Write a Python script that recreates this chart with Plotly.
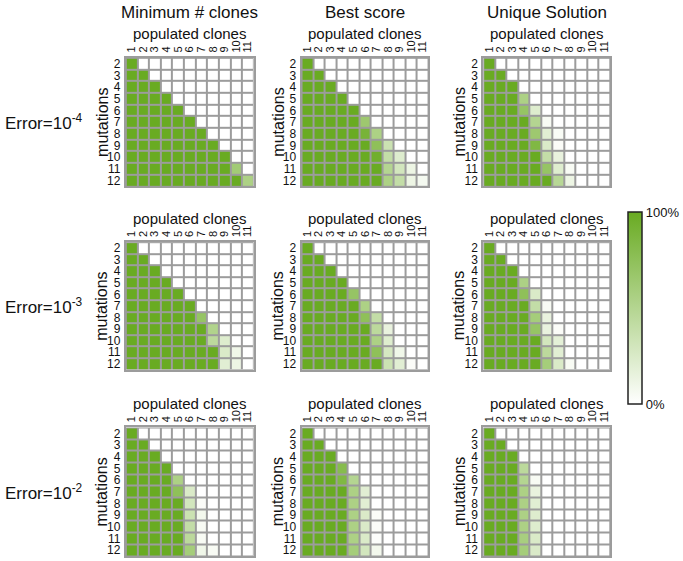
import plotly.graph_objects as go

W, H = 683, 561

mutations = [2, 3, 4, 5, 6, 7, 8, 9, 10, 11, 12]
clones = [1, 2, 3, 4, 5, 6, 7, 8, 9, 10, 11]
method_titles = ["Minimum # clones", "Best score", "Unique Solution"]
error_labels = ["Error=10<sup>-4</sup>", "Error=10<sup>-3</sup>", "Error=10<sup>-2</sup>"]

# % of runs, one list per mutation count (cols 1 .. m-1)
min_clones_e4 = [
    [100],
    [100, 100],
    [100, 100, 100],
    [100, 100, 100, 100],
    [100, 100, 100, 100, 100],
    [100, 100, 100, 100, 100, 100],
    [100, 100, 100, 100, 100, 100, 100],
    [100, 100, 100, 100, 100, 100, 100, 100],
    [100, 100, 100, 100, 100, 100, 100, 100, 100],
    [100, 100, 100, 100, 100, 100, 100, 100, 100, 62],
    [100, 100, 100, 100, 100, 100, 100, 100, 100, 100, 55],
]
best_score_e4 = [
    [100],
    [100, 100],
    [100, 100, 100],
    [100, 100, 100, 100],
    [100, 100, 100, 100, 100],
    [100, 100, 100, 100, 100, 65],
    [100, 100, 100, 100, 100, 90, 55],
    [100, 100, 100, 100, 100, 100, 75, 35],
    [100, 100, 100, 100, 100, 100, 95, 40, 22],
    [100, 100, 100, 100, 100, 100, 100, 50, 30, 12],
    [100, 100, 100, 100, 100, 100, 100, 55, 40, 12, 7],
]
unique_e4 = [
    [100],
    [100, 100],
    [100, 100, 100],
    [100, 100, 100, 55],
    [100, 100, 100, 70, 22],
    [100, 100, 100, 100, 50, 5],
    [100, 100, 100, 100, 65, 20, 4],
    [100, 100, 100, 100, 85, 25, 3, 0],
    [100, 100, 100, 100, 100, 40, 15, 0, 0],
    [100, 100, 100, 100, 100, 70, 22, 5, 0, 0],
    [100, 100, 100, 100, 100, 100, 48, 12, 0, 0, 0],
]
min_clones_e3 = [
    [100],
    [100, 100],
    [100, 100, 100],
    [100, 100, 100, 100],
    [100, 100, 100, 100, 100],
    [100, 100, 100, 100, 100, 100],
    [100, 100, 100, 100, 100, 100, 70],
    [100, 100, 100, 100, 100, 100, 100, 52],
    [100, 100, 100, 100, 100, 100, 100, 45, 22],
    [100, 100, 100, 100, 100, 100, 100, 100, 25, 10],
    [100, 100, 100, 100, 100, 100, 100, 100, 20, 12, 0],
]
best_score_e3 = [
    [100],
    [100, 100],
    [100, 100, 100],
    [100, 100, 100, 100],
    [100, 100, 100, 100, 70],
    [100, 100, 100, 100, 100, 55],
    [100, 100, 100, 100, 100, 75, 40],
    [100, 100, 100, 100, 100, 100, 45, 15],
    [100, 100, 100, 100, 100, 100, 55, 22, 0],
    [100, 100, 100, 100, 100, 100, 75, 28, 10, 0],
    [100, 100, 100, 100, 100, 100, 100, 35, 20, 3, 0],
]
unique_e3 = [
    [100],
    [100, 100],
    [100, 100, 100],
    [100, 100, 100, 55],
    [100, 100, 100, 75, 25],
    [100, 100, 100, 100, 40, 5],
    [100, 100, 100, 100, 60, 15, 0],
    [100, 100, 100, 100, 70, 15, 3, 0],
    [100, 100, 100, 100, 100, 30, 18, 0, 0],
    [100, 100, 100, 100, 100, 45, 20, 0, 0, 0],
    [100, 100, 100, 100, 100, 60, 25, 5, 0, 0, 0],
]
min_clones_e2 = [
    [100],
    [100, 100],
    [100, 100, 100],
    [100, 100, 100, 100],
    [100, 100, 100, 100, 55],
    [100, 100, 100, 100, 75, 25],
    [100, 100, 100, 100, 100, 30, 3],
    [100, 100, 100, 100, 100, 35, 8, 0],
    [100, 100, 100, 100, 100, 40, 5, 0, 0],
    [100, 100, 100, 100, 100, 45, 5, 0, 0, 0],
    [100, 100, 100, 100, 100, 60, 10, 5, 0, 0, 0],
]
best_score_e2 = [
    [100],
    [100, 100],
    [100, 100, 100],
    [100, 100, 100, 80],
    [100, 100, 100, 85, 50],
    [100, 100, 100, 100, 55, 20],
    [100, 100, 100, 100, 55, 20, 0],
    [100, 100, 100, 100, 55, 25, 3, 0],
    [100, 100, 100, 100, 55, 25, 3, 0, 0],
    [100, 100, 100, 100, 55, 25, 2, 0, 0, 0],
    [100, 100, 100, 100, 60, 30, 8, 0, 0, 0, 0],
]
unique_e2 = [
    [100],
    [100, 100],
    [100, 100, 100],
    [100, 100, 100, 45],
    [100, 100, 100, 50, 5],
    [100, 100, 100, 55, 15, 0],
    [100, 100, 100, 55, 20, 0, 0],
    [100, 100, 100, 55, 22, 0, 0, 0],
    [100, 100, 100, 55, 22, 0, 0, 0, 0],
    [100, 100, 100, 58, 25, 0, 0, 0, 0, 0],
    [100, 100, 100, 60, 25, 0, 0, 0, 0, 0, 0],
]

panels = [
    [min_clones_e4, best_score_e4, unique_e4],
    [min_clones_e3, best_score_e3, unique_e3],
    [min_clones_e2, best_score_e2, unique_e2],
]

# grid boxes in pixels (left, right) and (top, bottom)
col_px = [(125, 253), (301, 428), (483, 610)]
row_px = [(57, 186), (242, 370), (428, 557)]

GREEN = "#69ab22"
GRID = "#9c9c9c"
FONT = "Liberation Sans, Arial, sans-serif"


def to_matrix(rows):
    return [r + [0] * (len(clones) - len(r)) for r in rows]


fig = go.Figure()
annotations = []
k = 0
for ri, (top, bot) in enumerate(row_px):
    for ci, (left, right) in enumerate(col_px):
        k += 1
        xa = "x" if k == 1 else f"x{k}"
        ya = "y" if k == 1 else f"y{k}"
        fig.add_trace(go.Heatmap(
            z=to_matrix(panels[ri][ci]),
            x=clones,
            y=mutations,
            coloraxis="coloraxis",
            xgap=2,
            ygap=2,
            xaxis=xa,
            yaxis=ya,
            hovertemplate="clones %{x}, mutations %{y}: %{z}%<extra></extra>",
        ))
        xkey = "xaxis" if k == 1 else f"xaxis{k}"
        ykey = "yaxis" if k == 1 else f"yaxis{k}"
        fig.layout[xkey] = dict(
            domain=[left / W, right / W],
            anchor=ya,
            side="top",
            range=[0.5, 11.5],
            tickmode="array",
            tickvals=clones,
            ticktext=[str(c) for c in clones],
            tickangle=-90,
            tickfont=dict(size=11, color="#111111"),
            ticks="",
            ticklabelstandoff=1,
            showgrid=False,
            zeroline=False,
            showline=True,
            linecolor=GRID,
            linewidth=2,
            mirror=True,
            fixedrange=True,
        )
        fig.layout[ykey] = dict(
            domain=[1 - bot / H, 1 - top / H],
            anchor=xa,
            range=[12.5, 1.5],
            tickmode="array",
            tickvals=mutations,
            ticktext=[str(m) for m in mutations],
            tickfont=dict(size=12, color="#111111"),
            ticks="",
            ticklabelstandoff=1,
            showgrid=False,
            zeroline=False,
            showline=True,
            linecolor=GRID,
            linewidth=2,
            mirror=True,
            fixedrange=True,
        )
        annotations.append(dict(
            text="populated clones", x=(left + right) / 2 / W, y=1 - (top - 24) / H,
            xref="paper", yref="paper", showarrow=False,
            xanchor="center", yanchor="middle",
            font=dict(size=15, color="#111111"),
        ))
        annotations.append(dict(
            text="mutations", x=(left - 24) / W, y=1 - (top + bot) / 2 / H,
            xref="paper", yref="paper", showarrow=False, textangle=-90,
            xanchor="center", yanchor="middle",
            font=dict(size=16, color="#111111"),
        ))

for ci, title in enumerate(method_titles):
    left, right = col_px[ci]
    annotations.append(dict(
        text=title, x=(left + right) / 2 / W, y=1 - 12 / H,
        xref="paper", yref="paper", showarrow=False,
        xanchor="center", yanchor="middle",
        font=dict(size=17, color="#111111"),
    ))

for ri, label in enumerate(error_labels):
    top, bot = row_px[ri]
    annotations.append(dict(
        text=label, x=2 / W, y=1 - (top + bot) / 2 / H,
        xref="paper", yref="paper", showarrow=False,
        xanchor="left", yanchor="middle",
        font=dict(size=17, color="#111111"),
    ))

fig.update_layout(
    width=W,
    height=H,
    margin=dict(l=0, r=0, t=0, b=0),
    paper_bgcolor="white",
    plot_bgcolor=GRID,
    font=dict(family=FONT, color="#111111"),
    annotations=annotations,
    coloraxis=dict(
        cmin=0,
        cmax=100,
        colorscale=[[0, "#ffffff"], [1, GREEN]],
        colorbar=dict(
            x=628 / W,
            xanchor="left",
            y=1 - 212 / H,
            yanchor="top",
            len=(405 - 212) / H,
            lenmode="fraction",
            thickness=14,
            thicknessmode="pixels",
            outlinecolor="#222222",
            outlinewidth=1.5,
            tickvals=[0, 100],
            ticktext=["0%", "100%"],
            ticks="",
            tickfont=dict(size=13, color="#111111"),
            xpad=0,
            ypad=0,
        ),
    ),
)

fig.write_html(
    "out.html",
    config={"displayModeBar": False},
    post_script="document.body.style.margin='0';",
)
